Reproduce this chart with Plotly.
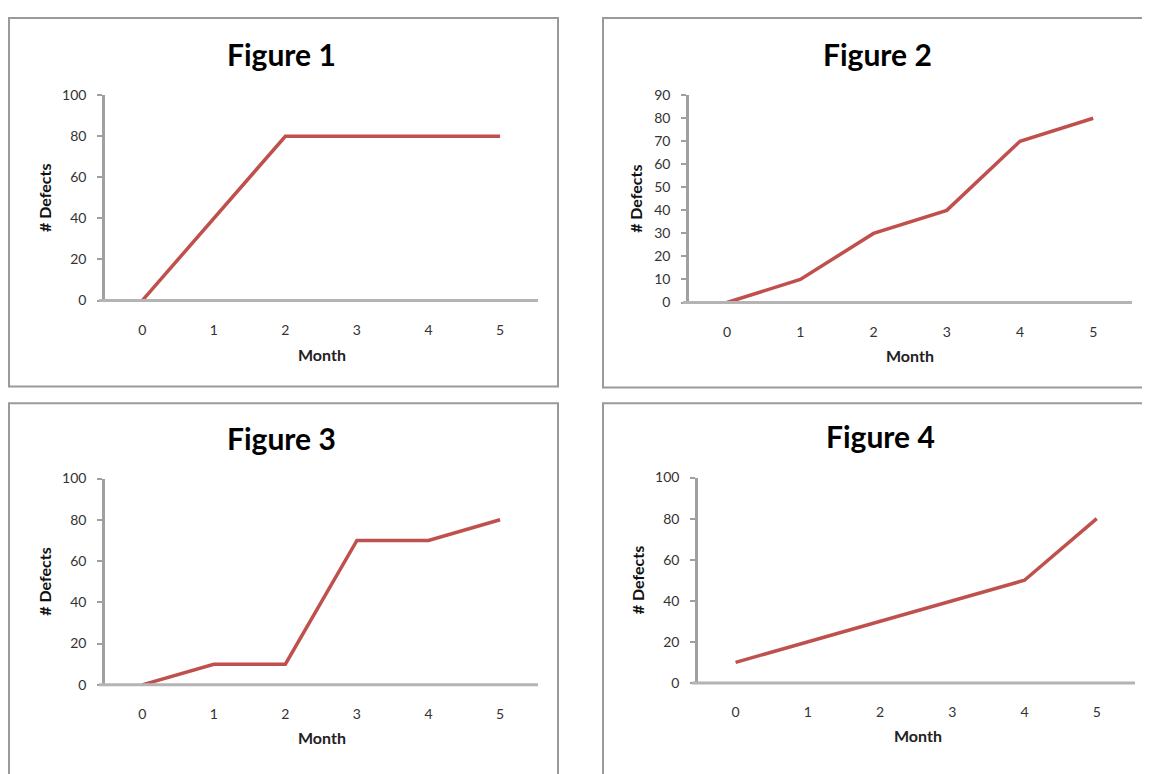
import plotly.graph_objects as go

months = [0, 1, 2, 3, 4, 5]
fig1_defects = [0, 40, 80, 80, 80, 80]
fig2_defects = [0, 10, 30, 40, 70, 80]
fig3_defects = [0, 10, 10, 70, 70, 80]
fig4_defects = [10, 20, 30, 40, 50, 80]
titles = ["Figure 1", "Figure 2", "Figure 3", "Figure 4"]
y_max = [100, 90, 100, 100]
y_step = [20, 10, 20, 20]

W, H = 1142, 766
OFFX, OFFY = 8, 8  # page body margin compensation
series = [fig1_defects, fig2_defects, fig3_defects, fig4_defects]

panels = [
    dict(px=(105, 538), py=(88, 298), box=(9, 9, 558, 386), title=(281, 46), ylab=45, month=(322, 353)),
    dict(px=(689, 1132), py=(88, 300), box=(603, 9, 1170, 387), title=(877, 46), ylab=636, month=(910, 354)),
    dict(px=(105, 538), py=(480, 691), box=(9, 403, 558, 800), title=(281, 439), ylab=45, month=(322, 745)),
    dict(px=(698, 1135), py=(479, 689), box=(603, 403, 1170, 800), title=(880, 437), ylab=637, month=(918, 743)),
]

def fx(p):
    return (p - OFFX) / W

def fy(p):
    return 1 - (p - OFFY) / H

fig = go.Figure()
layout = dict(width=W, height=H, margin=dict(l=0, r=0, t=0, b=0),
              paper_bgcolor="white", plot_bgcolor="white", showlegend=False,
              shapes=[], annotations=[])

FONT = "Lato, Open Sans, sans-serif"
tick_font = dict(family=FONT, size=14, color="#333333")
for i, (p, ys) in enumerate(zip(panels, series)):
    n = i + 1
    xa = "x" if n == 1 else f"x{n}"
    ya = "y" if n == 1 else f"y{n}"
    fig.add_trace(go.Scatter(x=months, y=ys, mode="lines",
                             line=dict(color="#C0504D", width=3.5),
                             xaxis=xa, yaxis=ya, hoverinfo="x+y"))
    xkey = "xaxis" if n == 1 else f"xaxis{n}"
    ykey = "yaxis" if n == 1 else f"yaxis{n}"
    layout[xkey] = dict(domain=[fx(p["px"][0]), fx(p["px"][1])], anchor=ya,
                        range=[-0.52, 5.53], tickvals=months, ticktext=[str(m) for m in months],
                        showgrid=False, zeroline=False, showline=False, ticks="",
                        ticklabelstandoff=19, tickfont=tick_font)
    layout[ykey] = dict(domain=[fy(p["py"][1]), fy(p["py"][0])], anchor=xa,
                        range=[0, y_max[i]], dtick=y_step[i], tick0=0,
                        showgrid=False, zeroline=False, showline=True,
                        linecolor="#a0a0a0", linewidth=2.5, ticks="outside", ticklen=5,
                        tickcolor="#a0a0a0", tickwidth=1.5, tickfont=tick_font,
                        ticklabelstandoff=8)
    # category axis baseline at 0
    layout["shapes"].append(dict(type="line", xref="paper", yref="paper",
                                 x0=fx(p["px"][0] - 6), x1=fx(p["px"][1]),
                                 y0=fy(p["py"][1]), y1=fy(p["py"][1]),
                                 line=dict(color="#b4b4b4", width=3)))
    bx0, by0, bx1, by1 = p["box"]
    layout["shapes"].append(dict(type="rect", xref="paper", yref="paper",
                                 x0=fx(bx0), x1=fx(bx1), y0=fy(by0), y1=fy(by1),
                                 line=dict(color="#9a9a9a", width=2)))
    layout["annotations"].append(dict(text=f"<b>{titles[i]}</b>", xref="paper", yref="paper",
                                      x=fx(p["title"][0]), y=fy(p["title"][1]),
                                      xanchor="center", yanchor="middle", showarrow=False,
                                      font=dict(family=FONT, size=30, color="#000")))
    layout["annotations"].append(dict(text="<b># Defects</b>", xref="paper", yref="paper",
                                      x=fx(p["ylab"]), y=fy((p["py"][0] + p["py"][1]) / 2),
                                      xanchor="center", yanchor="middle", showarrow=False, textangle=-90,
                                      font=dict(family=FONT, size=16, color="#111")))
    layout["annotations"].append(dict(text="<b>Month</b>", xref="paper", yref="paper",
                                      x=fx(p["month"][0]), y=fy(p["month"][1]),
                                      xanchor="center", yanchor="middle", showarrow=False,
                                      font=dict(family=FONT, size=16, color="#222")))

fig.update_layout(**layout)
fig.write_html("out.html")
